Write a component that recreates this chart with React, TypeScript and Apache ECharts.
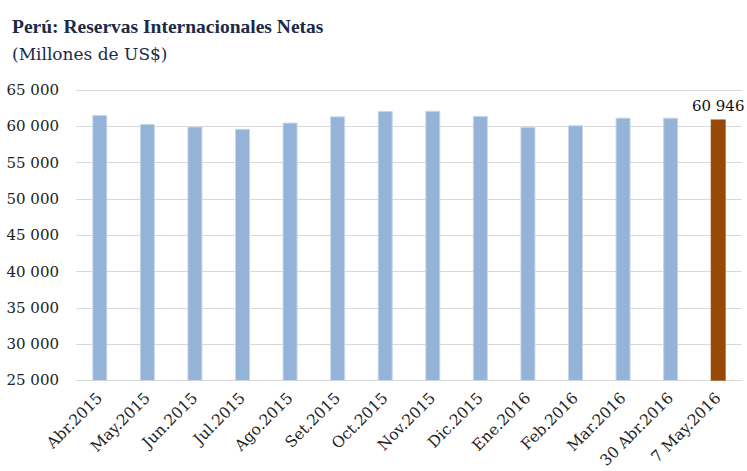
import React, { useEffect, useRef } from "react";
import * as echarts from "echarts";

const categories = [
  "Abr.2015", "May.2015", "Jun.2015", "Jul.2015", "Ago.2015", "Set.2015", "Oct.2015",
  "Nov.2015", "Dic.2015", "Ene.2016", "Feb.2016", "Mar.2016", "30 Abr.2016", "7 May.2016",
];
const values = [61560, 60330, 59970, 59650, 60510, 61370, 62100, 62130, 61430, 59930, 60140, 61190, 61190, 60946];
const yTicks = [25000, 30000, 35000, 40000, 45000, 50000, 55000, 60000, 65000];

const fmt = (v: number) => String(Math.round(v)).replace(/\B(?=(\d{3})+(?!\d))/g, " ");
const TITLE_FONT = "'Liberation Serif', serif";
const FONT = "'DejaVu Serif', serif";

export default function App() {
  const ref = useRef<HTMLDivElement>(null);
  useEffect(() => {
    const chart = echarts.init(ref.current!, null, { renderer: "svg" });
    const last = values.length - 1;
    chart.setOption({
      animation: false,
      title: [
        {
          text: "Perú: Reservas Internacionales Netas",
          left: 7,
          top: 11,
          textStyle: { fontFamily: TITLE_FONT, fontSize: 19.5, fontWeight: "bold", color: "#1b2a47" },
        },
        {
          text: "(Millones de US$)",
          left: 7,
          top: 40,
          textStyle: { fontFamily: FONT, fontSize: 17, fontWeight: "normal", color: "#1b2a47" },
        },
      ],
      grid: { left: 76, right: 5, top: 90, bottom: 88, containLabel: false },
      xAxis: {
        type: "category",
        data: categories,
        axisLine: { lineStyle: { color: "#d9d9d9", width: 1 } },
        axisTick: { show: false },
        axisLabel: { rotate: 45, interval: 0, fontFamily: FONT, fontSize: 15.5, color: "#222", margin: 15 },
      },
      yAxis: {
        type: "value",
        min: yTicks[0],
        max: yTicks[yTicks.length - 1],
        interval: 5000,
        axisLine: { show: false },
        axisTick: { show: false },
        splitLine: { lineStyle: { color: "#d9d9d9", width: 1 } },
        axisLabel: { formatter: (v: number) => fmt(v), fontFamily: FONT, fontSize: 15, color: "#222", margin: 17 },
      },
      series: [
        {
          type: "bar",
          barWidth: 15,
          data: values.map((v, i) => ({
            value: v,
            itemStyle:
              i === last
                ? { color: "#984807", borderColor: "#a95a1a", borderWidth: 0.5 }
                : { color: "#95b3d7", borderColor: "#c6d6ea", borderWidth: 1 },
            label:
              i === last
                ? { show: true, position: "top", formatter: (p: any) => fmt(p.value), fontFamily: FONT, fontSize: 15, color: "#111", distance: 6 }
                : { show: false },
          })),
        },
      ],
    });
    return () => chart.dispose();
  }, []);
  return <div ref={ref} style={{ width: 747, height: 471, position: "absolute", left: 0, top: 0 }} />;
}
